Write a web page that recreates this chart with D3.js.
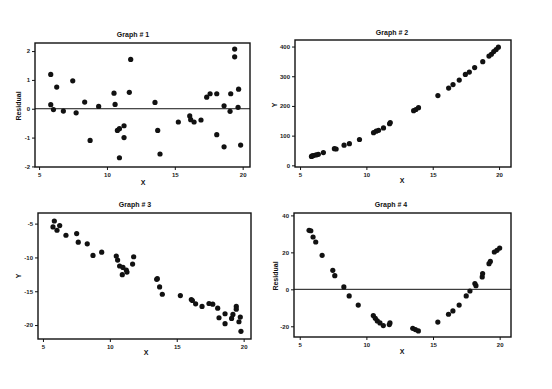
<!DOCTYPE html>
<html>
<head>
<meta charset="utf-8">
<script src="https://cdn.jsdelivr.net/npm/d3@7/dist/d3.min.js"></script>
<style>
  body { margin: 0; background: #fff; }
  svg { display: block; font-family: "Liberation Sans", Arial, sans-serif; }
  .tick text { font-size: 6px; font-weight: bold; fill: #222; }
  .tick line { stroke: #111; }
  .domain { display: none; }
  .title { font-size: 7px; font-weight: bold; fill: #111; }
  .axis-label { font-size: 7px; font-weight: bold; fill: #111; }
</style>
</head>
<body>
<svg id="chart"></svg>
<script>
// Graph 1: residuals
const g1X = [5.86, 5.86, 6.06, 6.3, 6.79, 7.48, 7.73, 8.36, 8.76, 9.39, 10.52, 10.6, 10.77, 10.92, 10.92,
  11.26, 11.26, 11.65, 11.75, 13.54, 13.74, 13.91, 15.26, 16.1, 16.17, 16.42, 16.93, 17.35, 17.6, 18.09,
  18.09, 18.63, 18.63, 19.07, 19.12, 19.41, 19.41, 19.66, 19.7, 19.85];
const g1Y = [1.19, 0.14, -0.03, 0.75, -0.08, 0.97, -0.14, 0.23, -1.1, 0.08, 0.54, 0.15, -0.75, -0.69, -1.7,
  -0.59, -1.0, 0.57, 1.71, 0.22, -0.75, -1.57, -0.46, -0.25, -0.38, -0.46, -0.39, 0.4, 0.52, 0.52,
  -0.9, 0.1, -1.32, -0.09, 0.52, 2.07, 1.8, 0.05, 0.68, -1.26];

// Graph 2: Y vs X
const g2X = [5.86, 5.92, 6.01, 6.21, 6.38, 6.76, 7.59, 7.72, 8.32, 8.72, 9.48, 10.54, 10.74, 10.92, 11.29,
  11.75, 11.8, 13.56, 13.73, 13.93, 15.39, 16.2, 16.53, 17.0, 17.46, 17.76, 18.16, 18.77, 19.24, 19.42,
  19.6, 19.78, 19.95];
const g2Y = [30, 32, 33, 35, 37, 43, 56, 55, 68, 73, 87, 110, 115, 118, 126,
  140, 144, 184, 188, 194, 235, 260, 272, 287, 306, 314, 329, 349, 368, 374,
  383, 390, 398];

// Graph 3: Y vs X
const g3X = [5.85, 5.75, 6.05, 6.25, 6.72, 7.52, 7.64, 8.31, 8.74, 9.39, 10.48, 10.58, 10.73, 10.93, 10.98,
  11.23, 11.28, 11.7, 11.78, 13.5, 13.55, 13.72, 13.92, 15.27, 16.09, 16.17, 16.41, 16.89, 17.41, 17.69,
  18.06, 18.16, 18.61, 18.61, 19.1, 19.2, 19.45, 19.45, 19.65, 19.75, 19.8];
const g3Y = [-4.61, -5.49, -5.98, -5.29, -6.72, -6.47, -7.75, -7.99, -9.71, -9.22, -9.8, -10.39, -11.27, -12.55, -11.47,
  -11.86, -12.16, -10.98, -9.9, -13.24, -13.14, -14.36, -15.44, -15.64, -16.23, -16.37, -16.86, -17.25, -16.81, -16.91,
  -17.5, -18.92, -18.33, -19.8, -19.02, -18.43, -17.25, -17.65, -19.51, -18.82, -20.93];

// Graph 4: residuals
const g4X = [5.7, 5.83, 6.0, 6.2, 6.68, 7.48, 7.63, 8.31, 8.71, 9.39, 10.52, 10.67, 10.82, 11.02, 11.27,
  11.72, 11.77, 13.48, 13.68, 13.9, 15.36, 16.16, 16.49, 16.96, 17.49, 17.77, 18.14, 18.22, 18.69, 18.72,
  19.2, 19.3, 19.6, 19.8, 20.0];
const g4Y = [31.9, 31.7, 28.3, 25.6, 18.4, 10.3, 7.4, 1.3, -3.6, -8.5, -14.2, -15.7, -17.1, -18.2, -19.6,
  -19.1, -18.2, -21.1, -21.8, -22.5, -17.7, -13.5, -11.7, -8.5, -3.6, -0.9, 3.1, 2.0, 6.7, 8.5,
  13.9, 15.1, 20.2, 21.1, 22.3];

const xTicks = [5, 10, 15, 20];
const y1Ticks = [-2, -1, 0, 1, 2];
const y2Ticks = [0, 100, 200, 300, 400];
const y3Ticks = [-20, -15, -10, -5];
const y4Ticks = [-20, 0, 20, 40];

const width = 552;
const height = 389;

const svg = d3.select("#chart")
    .attr("width", width)
    .attr("height", height);

const panels = [
  { title: "Graph # 1", xs: g1X, ys: g1Y, yLabel: "Residual", yTicks: y1Ticks,
    box: [35, 250, 43, 167], xDom: [4.7, 20.54], yDom: [-2.02, 2.28], zero: true,
    titlePos: [133, 35], xLabPos: [143, 183], yLabPos: [19, 106] },
  { title: "Graph # 2", xs: g2X, ys: g2Y, yLabel: "Y", yTicks: y2Ticks,
    box: [295, 511, 40, 167], xDom: [4.62, 20.9], yDom: [-5.6, 422], zero: false,
    titlePos: [392, 33], xLabPos: [402, 181], yLabPos: [275, 105] },
  { title: "Graph # 3", xs: g3X, ys: g3Y, yLabel: "Y", yTicks: y3Ticks,
    box: [38, 251, 213, 339], xDom: [4.63, 20.55], yDom: [-22.06, -3.43], zero: false,
    titlePos: [135, 205], xLabPos: [146, 353], yLabPos: [19, 276] },
  { title: "Graph # 4", xs: g4X, ys: g4Y, yLabel: "Residual", yTicks: y4Ticks,
    box: [294, 511, 213, 337], xDom: [4.57, 20.85], yDom: [-25.8, 41.3], zero: true,
    titlePos: [391, 205], xLabPos: [402, 352], yLabPos: [276, 276] }
];

panels.forEach(p => {
  const [left, right, top, bottom] = p.box;

  const x = d3.scaleLinear().domain(p.xDom).range([left, right]);
  const y = d3.scaleLinear().domain(p.yDom).range([bottom, top]);

  const g = svg.append("g");

  g.append("g")
    .attr("transform", `translate(0, ${bottom})`)
    .call(d3.axisBottom(x).tickValues(xTicks).tickSize(3).tickPadding(3).tickFormat(d3.format("d")));

  g.append("g")
    .attr("transform", `translate(${left}, 0)`)
    .call(d3.axisLeft(y).tickValues(p.yTicks).tickSize(3).tickPadding(2).tickFormat(d => String(d)));

  // zero reference line for residual plots
  if (p.zero) {
    g.append("line")
      .attr("x1", left).attr("x2", right)
      .attr("y1", y(0)).attr("y2", y(0))
      .attr("stroke", "#111")
      .attr("stroke-width", 1);
  }

  g.selectAll(".dot")
    .data(d3.zip(p.xs, p.ys))
    .enter()
    .append("circle")
    .attr("class", "dot")
    .attr("cx", d => x(d[0]))
    .attr("cy", d => y(d[1]))
    .attr("r", 2.6)
    .attr("fill", "#111");

  // frame
  g.append("rect")
    .attr("x", left).attr("y", top)
    .attr("width", right - left).attr("height", bottom - top)
    .attr("fill", "none")
    .attr("stroke", "#111")
    .attr("stroke-width", 1.4);

  g.append("text")
    .attr("class", "title")
    .attr("x", p.titlePos[0]).attr("y", p.titlePos[1] + 2)
    .attr("text-anchor", "middle")
    .text(p.title);

  g.append("text")
    .attr("class", "axis-label")
    .attr("x", p.xLabPos[0]).attr("y", p.xLabPos[1] + 2)
    .attr("text-anchor", "middle")
    .text("X");

  g.append("text")
    .attr("class", "axis-label")
    .attr("transform", `translate(${p.yLabPos[0] + 2}, ${p.yLabPos[1]}) rotate(-90)`)
    .attr("text-anchor", "middle")
    .text(p.yLabel);
});
</script>
</body>
</html>
